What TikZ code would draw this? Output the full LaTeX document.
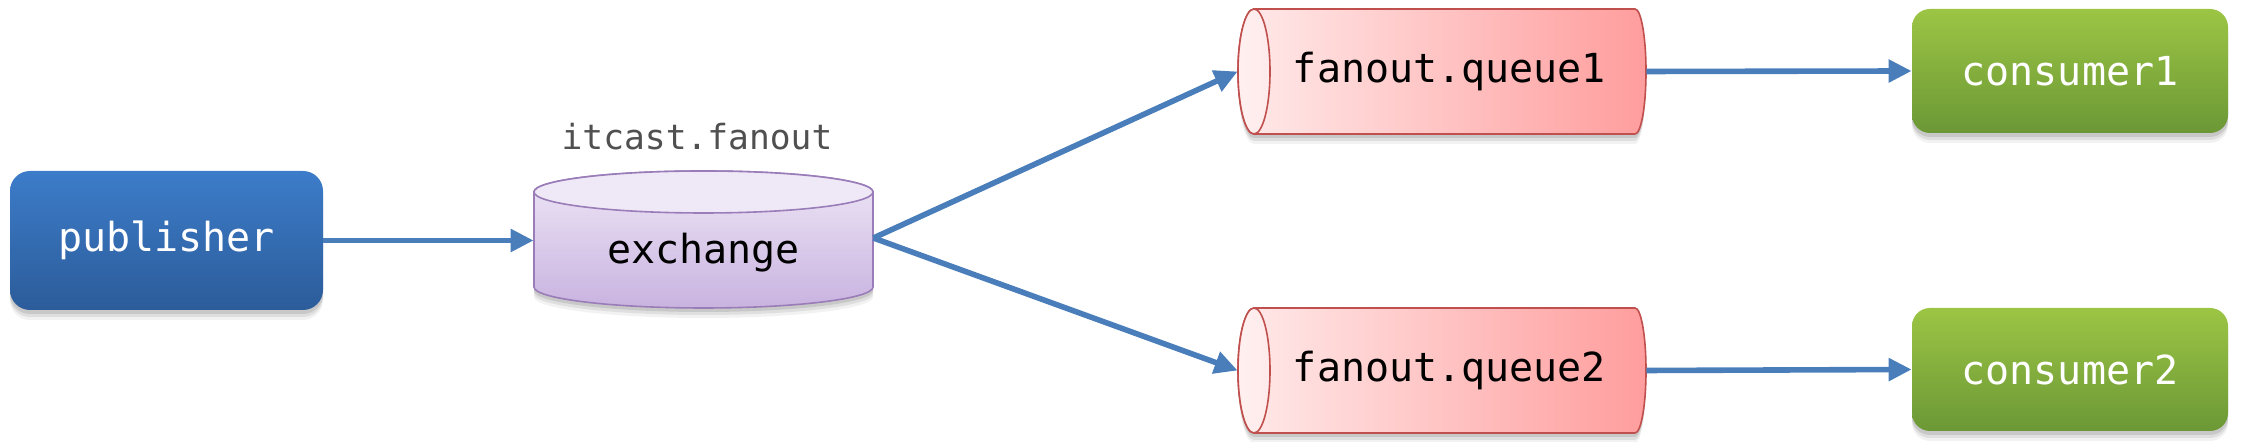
\documentclass[tikz,border=0pt]{standalone}
\usepackage{fontspec}
\setmonofont{DejaVu Sans Mono}
\usetikzlibrary{arrows.meta}
\definecolor{arrowblue}{HTML}{4A7EBB}
\definecolor{pubtop}{HTML}{3C7CC9}
\definecolor{pubbot}{HTML}{2C5C9A}
\definecolor{contop}{HTML}{9CC544}
\definecolor{conbot}{HTML}{6B9836}
\definecolor{extop}{HTML}{EEE7F6}
\definecolor{exbot}{HTML}{C9B3E0}
\definecolor{exlid}{HTML}{EFE9F7}
\definecolor{exline}{HTML}{9A7DB8}
\definecolor{qleft}{HTML}{FFEAEA}
\definecolor{qright}{HTML}{FF9D9D}
\definecolor{qlid}{HTML}{FFF0F0}
\definecolor{qline}{HTML}{C0504D}
\definecolor{labelgray}{HTML}{505050}
\begin{document}
\begin{tikzpicture}[x=1pt,y=1pt,
  shadowed/.style={
    preaction={fill=black,opacity=0.10,transform canvas={yshift=-2pt}},
    preaction={fill=black,opacity=0.08,transform canvas={yshift=-3.5pt}},
    preaction={fill=black,opacity=0.05,transform canvas={yshift=-5pt}}},
  maintext/.style={font=\ttfamily\fontsize{20}{24}\selectfont},
  pubbox/.style={shadowed,rectangle,rounded corners=10pt,top color=pubtop,bottom color=pubbot,
    text=white,maintext,minimum width=156.5pt,minimum height=69.5pt,inner sep=0pt},
  conbox/.style={shadowed,rectangle,rounded corners=9pt,top color=contop,bottom color=conbot,
    text=white,maintext,minimum width=158pt,minimum height=62pt,inner sep=0pt},
  exbody/.style={shadowed,draw=exline,line width=0.8pt,top color=extop,bottom color=exbot},
  qbody/.style={shadowed,draw=qline,line width=0.8pt,left color=qleft,right color=qright},
  textonly/.style={maintext,text=black,inner sep=0pt},
  arr/.style={draw=arrowblue,line width=2.8pt,-{Triangle[length=11.5pt,width=11pt]}}
]
\useasboundingbox (0,0) rectangle (1122,221);

% exchange cylinder
\path[exbody] (267,125) -- (267,77.5)
  arc[start angle=180,end angle=360,x radius=84.75pt,y radius=10.5pt]
  -- (436.5,125)
  arc[start angle=0,end angle=180,x radius=84.75pt,y radius=10.5pt] -- cycle;
\draw[exline,line width=0.8pt,fill=exlid] (351.75,125) ellipse[x radius=84.75pt,y radius=10.5pt];

% queue cylinders
\foreach \cy in {185.25,35.75}{
  \path[qbody] (627,\cy+31.25) -- (817.5,\cy+31.25)
    arc[start angle=90,end angle=-90,x radius=5.5pt,y radius=31.25pt]
    -- (627,\cy-31.25)
    arc[start angle=270,end angle=90,x radius=8pt,y radius=31.25pt] -- cycle;
  \draw[qline,line width=0.8pt,left color=qlid,right color=qleft] (627,\cy) ellipse[x radius=8pt,y radius=31.25pt];
}

\node[pubbox] (pub) at (83.25,100.75) {publisher};
\node[textonly,minimum width=169.5pt,minimum height=40pt] (ex) at (351.75,94.5) {exchange};
\node[font=\ttfamily\fontsize{17.3}{20}\selectfont,text=labelgray,inner sep=0pt] (exlabel) at (348.5,152.5) {itcast.fanout};
\node[textonly,minimum width=204pt,minimum height=62.5pt] (q1) at (721,185.25) {\hspace*{7.5pt}fanout.queue1};
\node[textonly,minimum width=204pt,minimum height=62.5pt] (q2) at (721,35.75) {\hspace*{7.5pt}fanout.queue2};
\node[conbox] (c1) at (1035,185.5) {consumer1};
\node[conbox,minimum height=61.5pt] (c2) at (1035,36.25) {consumer2};

\draw[arr] (pub.east) -- (pub.east -| ex.west);
\draw[arr] ([yshift=7.5pt]ex.east) -- (q1.west);
\draw[arr] ([yshift=7.5pt]ex.east) -- (q2.west);
\draw[arr] (q1.east) -- (c1.west);
\draw[arr] (q2.east) -- (c2.west);
\end{tikzpicture}
\end{document}
